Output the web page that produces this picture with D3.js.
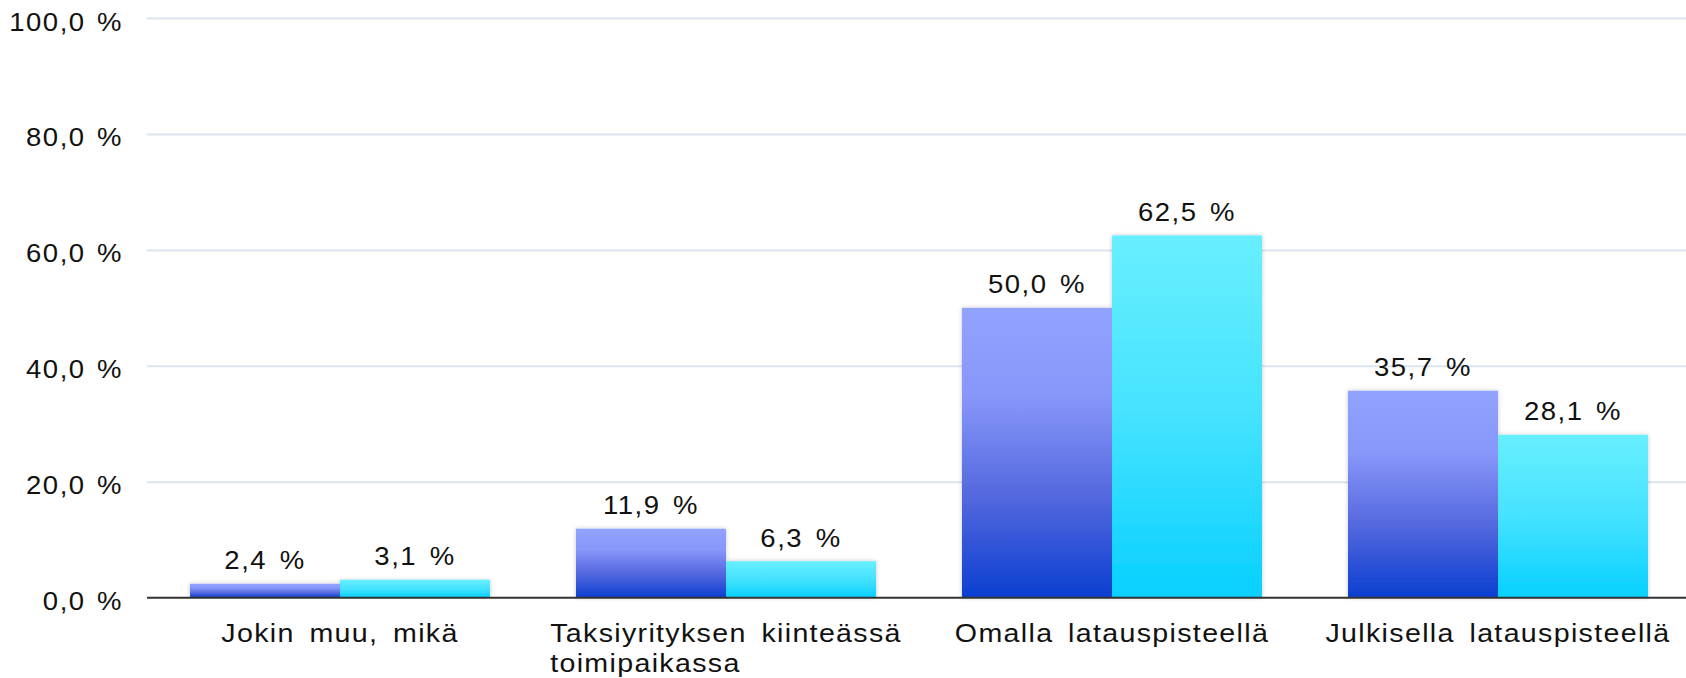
<!DOCTYPE html>
<html>
<head>
<meta charset="utf-8">
<script src="https://d3js.org/d3.v7.min.js"></script>
<style>
  body { margin: 0; background: #fff; }
  text { font-family: "Liberation Sans", Arial, sans-serif; fill: #111; }
</style>
</head>
<body>
<div id="chart"></div>
<script>
// chart data
var categories = ["Jokin muu, mikä", "Taksiyrityksen kiinteässä toimipaikassa",
                  "Omalla latauspisteellä", "Julkisella latauspisteellä"];
var seriesA = [2.4, 11.9, 50.0, 35.7];
var seriesB = [3.1, 6.3, 62.5, 28.1];
var yTicks = [0, 20, 40, 60, 80, 100];

// the text in the picture is a bit stretched sideways and spaced out
var stretch = 1.1;

// set the dimensions and margins of the graph
var totalWidth = 1686, totalHeight = 678;
var margin = {top: 18, right: -5, bottom: 80.3, left: 147},
    width = totalWidth - margin.left - margin.right,
    height = totalHeight - margin.top - margin.bottom;

var formatValue = function(d) { return d3.format(".1f")(d).replace(".", ",") + " %"; };

var svg = d3.select("#chart").append("svg")
    .attr("width", totalWidth)
    .attr("height", totalHeight)
  .append("g")
    .attr("transform", "translate(" + margin.left + "," + margin.top + ")");

// gradients + shadow
var defs = svg.append("defs");
function addGradient(id, stops) {
  var g = defs.append("linearGradient")
      .attr("id", id)
      .attr("x1", 0).attr("y1", 0).attr("x2", 0).attr("y2", 1);
  g.selectAll("stop")
      .data(stops)
    .enter().append("stop")
      .attr("offset", function(d) { return d[0]; })
      .attr("stop-color", function(d) { return d[1]; });
}
addGradient("gradBlue", [["0%", "#92a2ff"], ["30%", "#8797fa"], ["65%", "#5468de"], ["100%", "#0b3fd1"]]);
addGradient("gradCyan", [["0%", "#68efff"], ["50%", "#45e2ff"], ["100%", "#06d0ff"]]);

var shadow = defs.append("filter").attr("id", "barShadow")
    .attr("x", "-5%").attr("y", "-5%").attr("width", "110%").attr("height", "110%");
shadow.append("feDropShadow")
    .attr("dx", 0).attr("dy", 0)
    .attr("stdDeviation", 2)
    .attr("flood-color", "#000")
    .attr("flood-opacity", 0.22);

// scales
var x = d3.scaleBand()
    .domain(categories)
    .range([0, width])
    .paddingInner(86 / 386)
    .paddingOuter(43 / 386);

var x1 = d3.scaleBand()
    .domain(["a", "b"])
    .range([0, x.bandwidth()]);

var y = d3.scaleLinear()
    .domain([0, 100])
    .range([height, 0]);

// gridlines and y labels
var yAxis = svg.append("g")
    .attr("class", "y axis")
    .call(d3.axisLeft(y)
      .tickValues(yTicks)
      .tickSize(-width)
      .tickFormat(formatValue));

yAxis.select(".domain").remove();
yAxis.selectAll(".tick line")
    .attr("stroke", "#dbe5f1")
    .attr("stroke-width", 2)
    .filter(function(d) { return d === 0; })
    .remove();
yAxis.selectAll(".tick text")
    .attr("x", -24 / stretch)
    .attr("dy", "0.48em")
    .attr("transform", "scale(" + stretch + ",1)")
    .attr("letter-spacing", 1.4)
    .attr("word-spacing", 2)
    .style("font-size", "25px")
    .style("fill", "#111");

// bars
var rows = categories.map(function(c, i) {
  return {name: c, values: [{key: "a", v: seriesA[i]}, {key: "b", v: seriesB[i]}]};
});

var group = svg.append("g").selectAll(".group")
    .data(rows)
  .enter().append("g")
    .attr("class", "group")
    .attr("transform", function(d) { return "translate(" + x(d.name) + ",0)"; });

group.append("g")
    .attr("filter", "url(#barShadow)")
  .selectAll("rect")
    .data(function(d) { return d.values; })
  .enter().append("rect")
    .attr("x", function(d) { return x1(d.key); })
    .attr("y", function(d) { return y(d.v); })
    .attr("width", x1.bandwidth())
    .attr("height", function(d) { return y(0) - y(d.v); })
    .style("fill", function(d) { return d.key === "a" ? "url(#gradBlue)" : "url(#gradCyan)"; });

// value labels
group.selectAll(".value")
    .data(function(d) { return d.values; })
  .enter().append("text")
    .attr("class", "value")
    .attr("transform", function(d) {
      return "translate(" + (x1(d.key) + x1.bandwidth() / 2) + "," + (y(d.v) - 14.5) + ") scale(" + stretch + ",1)";
    })
    .attr("text-anchor", "middle")
    .attr("letter-spacing", 1.4)
    .attr("word-spacing", 3)
    .style("font-size", "25px")
    .text(function(d) { return formatValue(d.v); });

// baseline
svg.append("line")
    .attr("x1", 0)
    .attr("x2", width)
    .attr("y1", y(0))
    .attr("y2", y(0))
    .attr("stroke", "#333")
    .attr("stroke-width", 2);

// category labels, wrapped when too wide for the band
var label = svg.append("g").selectAll(".cat")
    .data(categories)
  .enter().append("text")
    .attr("class", "cat")
    .attr("transform", function(d) {
      return "translate(" + (x(d) + x.bandwidth() / 2) + "," + (height + 44) + ") scale(" + stretch + ",1)";
    })
    .attr("letter-spacing", 1.2)
    .attr("word-spacing", 5)
    .style("font-size", "26px");

label.each(function(d) {
  var text = d3.select(this),
      words = d.split(" "),
      maxW = (x.step() - 12) / stretch,
      lines = [],
      line = [];
  var probe = text.append("tspan");
  words.forEach(function(w) {
    probe.text(line.concat([w]).join(" "));
    if (line.length && probe.node().getComputedTextLength() > maxW) {
      lines.push(line.join(" "));
      line = [w];
    } else {
      line.push(w);
    }
  });
  lines.push(line.join(" "));
  probe.remove();

  var tspans = text.selectAll("tspan")
      .data(lines)
    .enter().append("tspan")
      .attr("y", function(l, i) { return i * 30; })
      .text(function(l) { return l; });

  var widest = 0;
  tspans.each(function() { widest = Math.max(widest, this.getComputedTextLength()); });
  tspans.attr("x", -widest / 2);
});
</script>
</body>
</html>
